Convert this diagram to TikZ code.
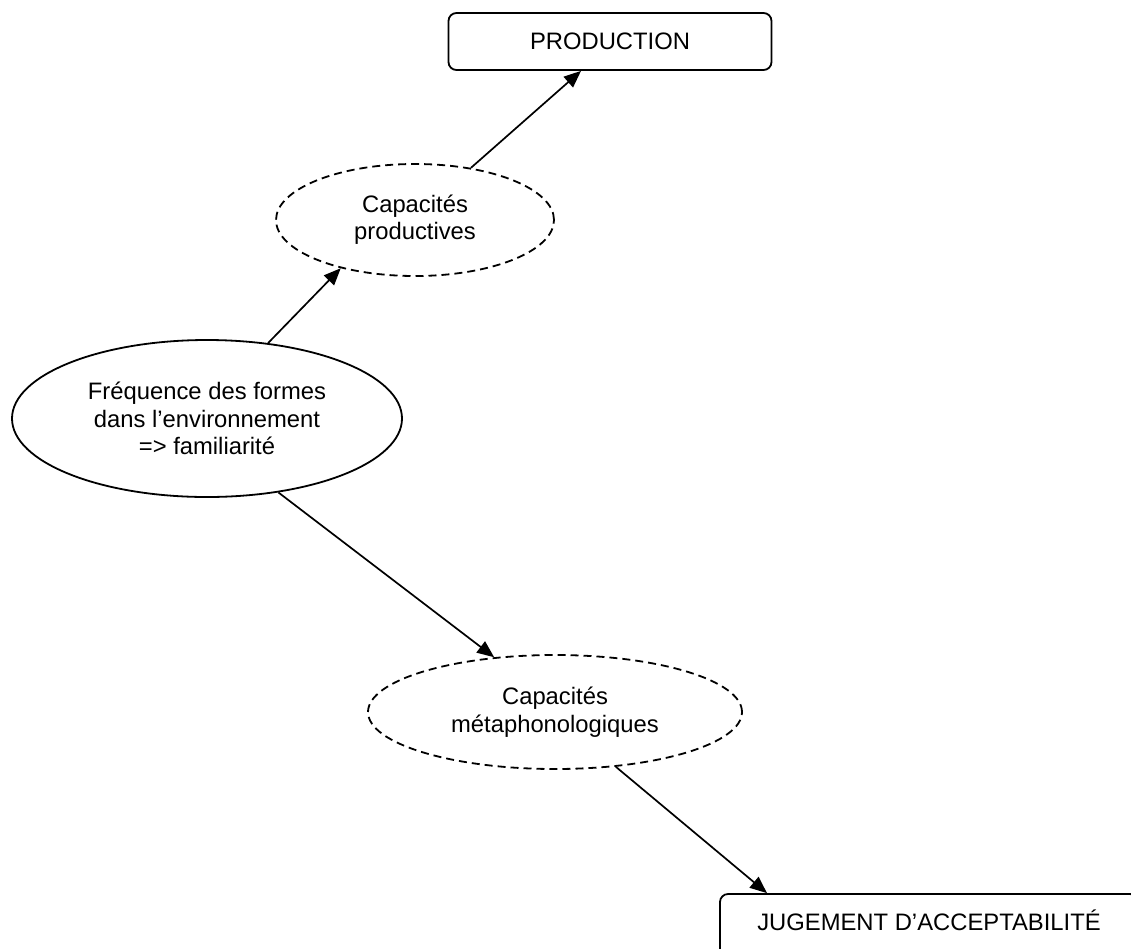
\documentclass[tikz,border=0pt]{standalone}
\usepackage{fontspec}
\setmainfont{Liberation Sans}
\usetikzlibrary{arrows.meta,shapes.geometric}
\tikzset{
  diagfont/.style={font=\fontsize{23.8}{27.4}\selectfont},
  boxnode/.style={draw, line width=1.8pt, rounded corners=8pt, inner sep=0pt, diagfont, fill=white},
  solidell/.style={draw, ellipse, line width=1.8pt, inner sep=0pt, align=center, diagfont, fill=white},
  dashell/.style={draw, ellipse, line width=1.8pt, dash pattern=on 8pt off 5pt, inner sep=0pt, align=center, diagfont, fill=white},
  conn/.style={line width=1.7pt, -{Triangle[length=17pt,width=14pt]}}
}
\begin{document}
\begin{tikzpicture}[x=1pt,y=-1pt]
\useasboundingbox (0,0) rectangle (1131,948);
\fill[white] (0,0) rectangle (1131,948);
\clip (0,0) rectangle (1131,948);
\node[boxnode, minimum width=323pt, minimum height=57pt] (P) at (610,41.5) {PRODUCTION};
\node[dashell, minimum width=278pt, minimum height=112pt] (CP) at (415,220) {Capacités\\productives};
\node[solidell, minimum width=390pt, minimum height=157pt] (F) at (207,418.5) {Fréquence des formes\\dans l’environnement\\=> familiarité};
\node[dashell, minimum width=374pt, minimum height=114pt] (CM) at (555,712) {Capacités\\métaphonologiques};
\node[boxnode, minimum width=418pt, minimum height=64pt, text height=17pt, text depth=8pt] (J) at (929,926) {JUGEMENT D’ACCEPTABILITÉ};
\draw[conn] (F.51) -- (CP.213);
\draw[conn] (CP.43) -- ([xshift=-29pt]P.south);
\draw[conn] (F.-46) -- (CM.138);
\draw[conn] (CM.-42) -- ([xshift=-162pt]J.north);
\end{tikzpicture}
\end{document}
